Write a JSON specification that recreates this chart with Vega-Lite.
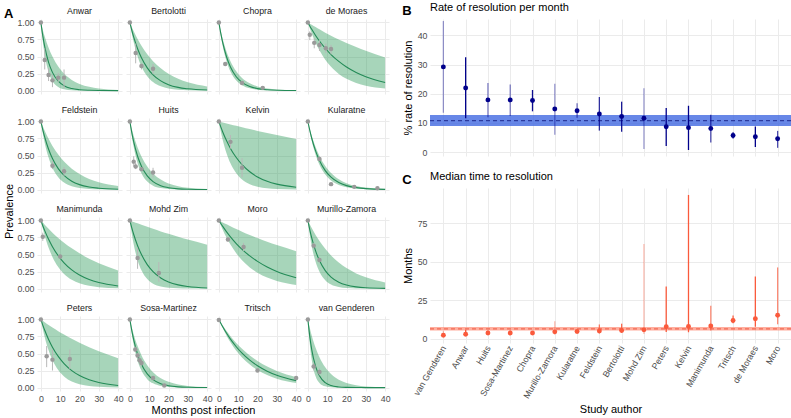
{
"$schema": "https://vega.github.io/schema/vega-lite/v6.json",
"padding": {"left": 3, "top": 2, "right": 0, "bottom": 2},
"background": "white",
"config": {
  "font": "Liberation Sans",
  "view": {"stroke": null},
  "axis": {"domain": false, "ticks": false, "labelOverlap": false, "labelColor": "#4D4D4D", "labelFontSize": 8.8, "titleFontSize": 11, "titleFontWeight": "normal", "titleColor": "#000000", "gridColor": "#EBEBEB", "labelPadding": 3},
  "header": {"labelFontSize": 8.8, "labelColor": "#1A1A1A"},
  "title": {"fontSize": 11, "fontWeight": "normal", "anchor": "start", "color": "#000000"}
},
"datasets": {
  "a": [
    {"s":"Anwar","t":0,"m":1,"l":1,"h":1},{"s":"Anwar","t":1,"m":0.803,"l":0.723,"h":0.890},{"s":"Anwar","t":2,"m":0.644,"l":0.522,"h":0.793},{"s":"Anwar","t":4,"m":0.415,"l":0.273,"h":0.629},{"s":"Anwar","t":6,"m":0.267,"l":0.142,"h":0.499},{"s":"Anwar","t":9,"m":0.138,"l":0.054,"h":0.352},{"s":"Anwar","t":12,"m":0.0714,"l":0.020,"h":0.249},{"s":"Anwar","t":16,"m":0.0296,"l":0.0055,"h":0.156},{"s":"Anwar","t":20,"m":0.0123,"l":0.0015,"h":0.098},{"s":"Anwar","t":25,"m":0.0041,"l":0.0003,"h":0.055},{"s":"Anwar","t":30,"m":0.0014,"l":0.0001,"h":0.031},{"s":"Anwar","t":40,"m":0.0002,"l":0,"h":0.0097},
    {"s":"Bertolotti","t":0,"m":1,"l":1,"h":1},{"s":"Bertolotti","t":1,"m":0.885,"l":0.841,"h":0.932},{"s":"Bertolotti","t":2,"m":0.783,"l":0.708,"h":0.869},{"s":"Bertolotti","t":4,"m":0.614,"l":0.501,"h":0.756},{"s":"Bertolotti","t":6,"m":0.481,"l":0.354,"h":0.657},{"s":"Bertolotti","t":9,"m":0.334,"l":0.211,"h":0.533},{"s":"Bertolotti","t":12,"m":0.231,"l":0.125,"h":0.432},{"s":"Bertolotti","t":16,"m":0.142,"l":0.063,"h":0.326},{"s":"Bertolotti","t":20,"m":0.087,"l":0.031,"h":0.247},{"s":"Bertolotti","t":25,"m":0.047,"l":0.013,"h":0.174},{"s":"Bertolotti","t":30,"m":0.026,"l":0.0056,"h":0.122},{"s":"Bertolotti","t":40,"m":0.0076,"l":0.001,"h":0.061},
    {"s":"Chopra","t":0,"m":1,"l":1,"h":1},{"s":"Chopra","t":1,"m":0.838,"l":0.808,"h":0.869},{"s":"Chopra","t":2,"m":0.702,"l":0.653,"h":0.756},{"s":"Chopra","t":4,"m":0.493,"l":0.427,"h":0.571},{"s":"Chopra","t":6,"m":0.346,"l":0.279,"h":0.432},{"s":"Chopra","t":9,"m":0.203,"l":0.147,"h":0.284},{"s":"Chopra","t":12,"m":0.120,"l":0.078,"h":0.186},{"s":"Chopra","t":16,"m":0.059,"l":0.033,"h":0.106},{"s":"Chopra","t":20,"m":0.029,"l":0.014,"h":0.061},{"s":"Chopra","t":25,"m":0.012,"l":0.0049,"h":0.030},{"s":"Chopra","t":30,"m":0.0049,"l":0.0017,"h":0.015},{"s":"Chopra","t":40,"m":0.0008,"l":0.0002,"h":0.0037},
    {"s":"de Moraes","t":0,"m":1,"l":1,"h":1},{"s":"de Moraes","t":1,"m":0.948,"l":0.916,"h":0.982},{"s":"de Moraes","t":2,"m":0.899,"l":0.839,"h":0.965},{"s":"de Moraes","t":4,"m":0.809,"l":0.703,"h":0.931},{"s":"de Moraes","t":6,"m":0.728,"l":0.590,"h":0.898},{"s":"de Moraes","t":9,"m":0.621,"l":0.453,"h":0.850},{"s":"de Moraes","t":12,"m":0.529,"l":0.348,"h":0.806},{"s":"de Moraes","t":16,"m":0.428,"l":0.245,"h":0.750},{"s":"de Moraes","t":20,"m":0.346,"l":0.172,"h":0.698},{"s":"de Moraes","t":25,"m":0.266,"l":0.111,"h":0.638},{"s":"de Moraes","t":30,"m":0.204,"l":0.071,"h":0.583},{"s":"de Moraes","t":40,"m":0.120,"l":0.030,"h":0.487},
    {"s":"Feldstein","t":0,"m":1,"l":1,"h":1},{"s":"Feldstein","t":1,"m":0.877,"l":0.828,"h":0.929},{"s":"Feldstein","t":2,"m":0.770,"l":0.685,"h":0.862},{"s":"Feldstein","t":4,"m":0.592,"l":0.470,"h":0.744},{"s":"Feldstein","t":6,"m":0.456,"l":0.322,"h":0.641},{"s":"Feldstein","t":9,"m":0.308,"l":0.182,"h":0.514},{"s":"Feldstein","t":12,"m":0.208,"l":0.104,"h":0.411},{"s":"Feldstein","t":16,"m":0.123,"l":0.049,"h":0.306},{"s":"Feldstein","t":20,"m":0.073,"l":0.023,"h":0.228},{"s":"Feldstein","t":25,"m":0.038,"l":0.0089,"h":0.157},{"s":"Feldstein","t":30,"m":0.020,"l":0.0034,"h":0.109},{"s":"Feldstein","t":40,"m":0.0053,"l":0.0005,"h":0.052},
    {"s":"Huits","t":0,"m":1,"l":1,"h":1},{"s":"Huits","t":1,"m":0.836,"l":0.789,"h":0.887},{"s":"Huits","t":2,"m":0.699,"l":0.623,"h":0.787},{"s":"Huits","t":4,"m":0.489,"l":0.388,"h":0.619},{"s":"Huits","t":6,"m":0.342,"l":0.241,"h":0.487},{"s":"Huits","t":9,"m":0.200,"l":0.118,"h":0.340},{"s":"Huits","t":12,"m":0.117,"l":0.058,"h":0.237},{"s":"Huits","t":16,"m":0.057,"l":0.023,"h":0.147},{"s":"Huits","t":20,"m":0.028,"l":0.0087,"h":0.091},{"s":"Huits","t":25,"m":0.011,"l":0.0027,"h":0.050},{"s":"Huits","t":30,"m":0.0047,"l":0.0008,"h":0.027},{"s":"Huits","t":40,"m":0.0008,"l":0.0001,"h":0.0082},
    {"s":"Kelvin","t":0,"m":1,"l":1,"h":1},{"s":"Kelvin","t":1,"m":0.919,"l":0.853,"h":0.993},{"s":"Kelvin","t":2,"m":0.845,"l":0.728,"h":0.985},{"s":"Kelvin","t":4,"m":0.715,"l":0.529,"h":0.970},{"s":"Kelvin","t":6,"m":0.604,"l":0.385,"h":0.956},{"s":"Kelvin","t":9,"m":0.470,"l":0.239,"h":0.935},{"s":"Kelvin","t":12,"m":0.365,"l":0.148,"h":0.914},{"s":"Kelvin","t":16,"m":0.261,"l":0.079,"h":0.887},{"s":"Kelvin","t":20,"m":0.186,"l":0.042,"h":0.861},{"s":"Kelvin","t":25,"m":0.122,"l":0.019,"h":0.829},{"s":"Kelvin","t":30,"m":0.080,"l":0.0085,"h":0.799},{"s":"Kelvin","t":40,"m":0.035,"l":0.0017,"h":0.741},
    {"s":"Kularatne","t":0,"m":1,"l":1,"h":1},{"s":"Kularatne","t":1,"m":0.868,"l":0.845,"h":0.889},{"s":"Kularatne","t":2,"m":0.753,"l":0.715,"h":0.790},{"s":"Kularatne","t":4,"m":0.567,"l":0.511,"h":0.624},{"s":"Kularatne","t":6,"m":0.427,"l":0.365,"h":0.493},{"s":"Kularatne","t":9,"m":0.279,"l":0.220,"h":0.346},{"s":"Kularatne","t":12,"m":0.182,"l":0.133,"h":0.243},{"s":"Kularatne","t":16,"m":0.103,"l":0.068,"h":0.151},{"s":"Kularatne","t":20,"m":0.058,"l":0.035,"h":0.094},{"s":"Kularatne","t":25,"m":0.029,"l":0.015,"h":0.052},{"s":"Kularatne","t":30,"m":0.014,"l":0.0065,"h":0.029},{"s":"Kularatne","t":40,"m":0.0034,"l":0.0012,"h":0.0089},
    {"s":"Manimunda","t":0,"m":1,"l":1,"h":1},{"s":"Manimunda","t":1,"m":0.922,"l":0.880,"h":0.968},{"s":"Manimunda","t":2,"m":0.850,"l":0.774,"h":0.936},{"s":"Manimunda","t":4,"m":0.723,"l":0.599,"h":0.876},{"s":"Manimunda","t":6,"m":0.615,"l":0.464,"h":0.820},{"s":"Manimunda","t":9,"m":0.482,"l":0.316,"h":0.743},{"s":"Manimunda","t":12,"m":0.378,"l":0.215,"h":0.673},{"s":"Manimunda","t":16,"m":0.274,"l":0.129,"h":0.590},{"s":"Manimunda","t":20,"m":0.198,"l":0.077,"h":0.517},{"s":"Manimunda","t":25,"m":0.132,"l":0.041,"h":0.438},{"s":"Manimunda","t":30,"m":0.088,"l":0.021,"h":0.372},{"s":"Manimunda","t":40,"m":0.039,"l":0.006,"h":0.267},
    {"s":"Mohd Zim","t":0,"m":1,"l":1,"h":1},{"s":"Mohd Zim","t":1,"m":0.890,"l":0.803,"h":0.989},{"s":"Mohd Zim","t":2,"m":0.793,"l":0.645,"h":0.978},{"s":"Mohd Zim","t":4,"m":0.629,"l":0.416,"h":0.957},{"s":"Mohd Zim","t":6,"m":0.499,"l":0.269,"h":0.936},{"s":"Mohd Zim","t":9,"m":0.352,"l":0.139,"h":0.906},{"s":"Mohd Zim","t":12,"m":0.249,"l":0.072,"h":0.876},{"s":"Mohd Zim","t":16,"m":0.156,"l":0.030,"h":0.839},{"s":"Mohd Zim","t":20,"m":0.098,"l":0.0125,"h":0.803},{"s":"Mohd Zim","t":25,"m":0.055,"l":0.0042,"h":0.760},{"s":"Mohd Zim","t":30,"m":0.031,"l":0.0014,"h":0.719},{"s":"Mohd Zim","t":40,"m":0.0097,"l":0.0002,"h":0.644},
    {"s":"Moro","t":0,"m":1,"l":1,"h":1},{"s":"Moro","t":1,"m":0.955,"l":0.930,"h":0.985},{"s":"Moro","t":2,"m":0.912,"l":0.864,"h":0.970},{"s":"Moro","t":4,"m":0.832,"l":0.747,"h":0.942},{"s":"Moro","t":6,"m":0.759,"l":0.645,"h":0.914},{"s":"Moro","t":9,"m":0.661,"l":0.518,"h":0.874},{"s":"Moro","t":12,"m":0.576,"l":0.416,"h":0.835},{"s":"Moro","t":16,"m":0.479,"l":0.311,"h":0.787},{"s":"Moro","t":20,"m":0.399,"l":0.232,"h":0.741},{"s":"Moro","t":25,"m":0.317,"l":0.161,"h":0.687},{"s":"Moro","t":30,"m":0.252,"l":0.112,"h":0.638},{"s":"Moro","t":40,"m":0.159,"l":0.054,"h":0.549},
    {"s":"Murillo-Zamora","t":0,"m":1,"l":1,"h":1},{"s":"Murillo-Zamora","t":1,"m":0.862,"l":0.791,"h":0.942},{"s":"Murillo-Zamora","t":2,"m":0.744,"l":0.626,"h":0.887},{"s":"Murillo-Zamora","t":4,"m":0.553,"l":0.392,"h":0.787},{"s":"Murillo-Zamora","t":6,"m":0.411,"l":0.246,"h":0.698},{"s":"Murillo-Zamora","t":9,"m":0.264,"l":0.122,"h":0.583},{"s":"Murillo-Zamora","t":12,"m":0.169,"l":0.060,"h":0.487},{"s":"Murillo-Zamora","t":16,"m":0.094,"l":0.024,"h":0.383},{"s":"Murillo-Zamora","t":20,"m":0.052,"l":0.0093,"h":0.301},{"s":"Murillo-Zamora","t":25,"m":0.025,"l":0.0029,"h":0.223},{"s":"Murillo-Zamora","t":30,"m":0.012,"l":0.0009,"h":0.165},{"s":"Murillo-Zamora","t":40,"m":0.0027,"l":0.0001,"h":0.091},
    {"s":"Peters","t":0,"m":1,"l":1,"h":1},{"s":"Peters","t":1,"m":0.917,"l":0.860,"h":0.979},{"s":"Peters","t":2,"m":0.840,"l":0.739,"h":0.959},{"s":"Peters","t":4,"m":0.706,"l":0.547,"h":0.919},{"s":"Peters","t":6,"m":0.593,"l":0.404,"h":0.882},{"s":"Peters","t":9,"m":0.457,"l":0.257,"h":0.828},{"s":"Peters","t":12,"m":0.352,"l":0.163,"h":0.777},{"s":"Peters","t":16,"m":0.249,"l":0.089,"h":0.715},{"s":"Peters","t":20,"m":0.176,"l":0.049,"h":0.657},{"s":"Peters","t":25,"m":0.114,"l":0.023,"h":0.592},{"s":"Peters","t":30,"m":0.074,"l":0.011,"h":0.533},{"s":"Peters","t":40,"m":0.031,"l":0.0024,"h":0.432},
    {"s":"Sosa-Martinez","t":0,"m":1,"l":1,"h":1},{"s":"Sosa-Martinez","t":1,"m":0.836,"l":0.793,"h":0.883},{"s":"Sosa-Martinez","t":2,"m":0.699,"l":0.629,"h":0.780},{"s":"Sosa-Martinez","t":4,"m":0.489,"l":0.395,"h":0.609},{"s":"Sosa-Martinez","t":6,"m":0.342,"l":0.249,"h":0.475},{"s":"Sosa-Martinez","t":9,"m":0.200,"l":0.124,"h":0.328},{"s":"Sosa-Martinez","t":12,"m":0.117,"l":0.062,"h":0.226},{"s":"Sosa-Martinez","t":16,"m":0.057,"l":0.024,"h":0.138},{"s":"Sosa-Martinez","t":20,"m":0.028,"l":0.0097,"h":0.084},{"s":"Sosa-Martinez","t":25,"m":0.011,"l":0.003,"h":0.045},{"s":"Sosa-Martinez","t":30,"m":0.0047,"l":0.0009,"h":0.024},{"s":"Sosa-Martinez","t":40,"m":0.0008,"l":0.0001,"h":0.007},
    {"s":"Tritsch","t":0,"m":1,"l":1,"h":1},{"s":"Tritsch","t":1,"m":0.945,"l":0.934,"h":0.954},{"s":"Tritsch","t":2,"m":0.892,"l":0.873,"h":0.910},{"s":"Tritsch","t":4,"m":0.796,"l":0.762,"h":0.829},{"s":"Tritsch","t":6,"m":0.710,"l":0.665,"h":0.754},{"s":"Tritsch","t":9,"m":0.599,"l":0.542,"h":0.655},{"s":"Tritsch","t":12,"m":0.505,"l":0.442,"h":0.569},{"s":"Tritsch","t":16,"m":0.402,"l":0.337,"h":0.471},{"s":"Tritsch","t":20,"m":0.320,"l":0.257,"h":0.391},{"s":"Tritsch","t":25,"m":0.241,"l":0.183,"h":0.309},{"s":"Tritsch","t":30,"m":0.181,"l":0.130,"h":0.244},{"s":"Tritsch","t":40,"m":0.102,"l":0.066,"h":0.153},
    {"s":"van Genderen","t":0,"m":1,"l":1,"h":1},{"s":"van Genderen","t":1,"m":0.747,"l":0.638,"h":0.874},{"s":"van Genderen","t":2,"m":0.558,"l":0.407,"h":0.763},{"s":"van Genderen","t":4,"m":0.311,"l":0.166,"h":0.583},{"s":"van Genderen","t":6,"m":0.173,"l":0.068,"h":0.445},{"s":"van Genderen","t":9,"m":0.072,"l":0.018,"h":0.297},{"s":"van Genderen","t":12,"m":0.030,"l":0.0046,"h":0.198},{"s":"van Genderen","t":16,"m":0.0094,"l":0.0008,"h":0.115},{"s":"van Genderen","t":20,"m":0.0029,"l":0.0001,"h":0.067},{"s":"van Genderen","t":25,"m":0.0007,"l":0,"h":0.034},{"s":"van Genderen","t":30,"m":0.0002,"l":0,"h":0.017},{"s":"van Genderen","t":40,"m":0,"l":0,"h":0.0045},
    {"s":"Anwar","t":0,"p":1},{"s":"Anwar","t":2,"p":0.45,"pl":0.31,"ph":0.62},{"s":"Anwar","t":4,"p":0.23,"pl":0.14,"ph":0.33},{"s":"Anwar","t":6,"p":0.15,"pl":0.05,"ph":0.23},{"s":"Anwar","t":9,"p":0.19,"pl":0.12,"ph":0.26},{"s":"Anwar","t":12,"p":0.19,"pl":0.03,"ph":0.31},
    {"s":"Bertolotti","t":0,"p":1},{"s":"Bertolotti","t":3,"p":0.55,"pl":0.40,"ph":0.69},{"s":"Bertolotti","t":6,"p":0.36,"pl":0.31,"ph":0.40},{"s":"Bertolotti","t":12,"p":0.32,"pl":0.24,"ph":0.39},
    {"s":"Chopra","t":0,"p":1},{"s":"Chopra","t":3.3,"p":0.39,"pl":0.36,"ph":0.42},{"s":"Chopra","t":12,"p":0.11,"pl":0.09,"ph":0.13},{"s":"Chopra","t":22.7,"p":0.04,"pl":0.03,"ph":0.05},
    {"s":"de Moraes","t":0,"p":1},{"s":"de Moraes","t":1,"p":0.82,"pl":0.74,"ph":0.87},{"s":"de Moraes","t":3.3,"p":0.70,"pl":0.62,"ph":0.77},{"s":"de Moraes","t":6,"p":0.67,"pl":0.58,"ph":0.74},{"s":"de Moraes","t":9.3,"p":0.62,"pl":0.55,"ph":0.69},{"s":"de Moraes","t":12,"p":0.61,"pl":0.53,"ph":0.67},
    {"s":"Feldstein","t":0,"p":1},{"s":"Feldstein","t":6,"p":0.35,"pl":0.30,"ph":0.42},{"s":"Feldstein","t":12,"p":0.27,"pl":0.20,"ph":0.33},
    {"s":"Huits","t":0,"p":1},{"s":"Huits","t":2,"p":0.41,"pl":0.34,"ph":0.49},{"s":"Huits","t":3,"p":0.34,"pl":0.30,"ph":0.39},{"s":"Huits","t":6,"p":0.30,"pl":0.27,"ph":0.33},{"s":"Huits","t":12,"p":0.25,"pl":0.18,"ph":0.32},
    {"s":"Kelvin","t":0,"p":1},{"s":"Kelvin","t":6,"p":0.70,"pl":0.60,"ph":0.80},{"s":"Kelvin","t":12,"p":0.32,"pl":0.18,"ph":0.46},
    {"s":"Kularatne","t":0,"p":1},{"s":"Kularatne","t":6,"p":0.45,"pl":0.42,"ph":0.48},{"s":"Kularatne","t":12,"p":0.08,"pl":0.06,"ph":0.10},{"s":"Kularatne","t":24,"p":0.04,"pl":0.03,"ph":0.05},{"s":"Kularatne","t":36,"p":0.02,"pl":0.01,"ph":0.03},
    {"s":"Manimunda","t":0,"p":1},{"s":"Manimunda","t":1,"p":0.76,"pl":0.70,"ph":0.82},{"s":"Manimunda","t":10,"p":0.47,"pl":0.44,"ph":0.50},
    {"s":"Mohd Zim","t":0,"p":1},{"s":"Mohd Zim","t":4,"p":0.45,"pl":0.29,"ph":0.60},{"s":"Mohd Zim","t":15,"p":0.23,"pl":0.10,"ph":0.39},
    {"s":"Moro","t":0,"p":1},{"s":"Moro","t":4.7,"p":0.72,"pl":0.69,"ph":0.75},{"s":"Moro","t":12.8,"p":0.61,"pl":0.55,"ph":0.67},
    {"s":"Murillo-Zamora","t":0,"p":1},{"s":"Murillo-Zamora","t":3,"p":0.63,"pl":0.59,"ph":0.67},{"s":"Murillo-Zamora","t":6,"p":0.42,"pl":0.38,"ph":0.46},
    {"s":"Peters","t":0,"p":1},{"s":"Peters","t":3,"p":0.46,"pl":0.30,"ph":0.61},{"s":"Peters","t":6,"p":0.41,"pl":0.25,"ph":0.56},{"s":"Peters","t":15,"p":0.42,"pl":0.27,"ph":0.56},
    {"s":"Sosa-Martinez","t":0,"p":1},{"s":"Sosa-Martinez","t":2.8,"p":0.56,"pl":0.52,"ph":0.60},{"s":"Sosa-Martinez","t":4,"p":0.47,"pl":0.43,"ph":0.51},{"s":"Sosa-Martinez","t":5,"p":0.40,"pl":0.36,"ph":0.44},{"s":"Sosa-Martinez","t":6,"p":0.36,"pl":0.32,"ph":0.40},{"s":"Sosa-Martinez","t":12,"p":0.14,"pl":0.11,"ph":0.17},{"s":"Sosa-Martinez","t":17.8,"p":0.03,"pl":0.02,"ph":0.04},
    {"s":"Tritsch","t":0,"p":0.99},{"s":"Tritsch","t":20,"p":0.25,"pl":0.23,"ph":0.28},{"s":"Tritsch","t":40,"p":0.14,"pl":0.12,"ph":0.15},
    {"s":"van Genderen","t":0,"p":1},{"s":"van Genderen","t":3,"p":0.31,"pl":0.25,"ph":0.37},{"s":"van Genderen","t":6,"p":0.23,"pl":0.18,"ph":0.28}
  ],
  "bc": [
    {"s":"van Genderen","rate":29.2,"rlo":13.5,"rhi":44.9,"med":2.4,"mlo":1.54,"mhi":5.13,"wt":0.4},
    {"s":"Anwar","rate":22.0,"rlo":11.6,"rhi":32.5,"med":3.1,"mlo":2.13,"mhi":5.97,"wt":1},
    {"s":"Huits","rate":17.9,"rlo":12.0,"rhi":23.7,"med":3.9,"mlo":2.92,"mhi":5.78,"wt":0.5},
    {"s":"Sosa-Martinez","rate":17.9,"rlo":12.4,"rhi":23.2,"med":3.9,"mlo":2.99,"mhi":5.59,"wt":0.5},
    {"s":"Chopra","rate":17.7,"rlo":14.0,"rhi":21.3,"med":3.9,"mlo":3.25,"mhi":4.95,"wt":0.95},
    {"s":"Murillo-Zamora","rate":14.8,"rlo":6.0,"rhi":23.4,"med":4.6,"mlo":2.96,"mhi":11.5,"wt":0.4},
    {"s":"Kularatne","rate":14.2,"rlo":11.8,"rhi":16.8,"med":4.8,"mlo":4.13,"mhi":5.87,"wt":0.55},
    {"s":"Feldstein","rate":13.1,"rlo":7.4,"rhi":18.9,"med":5.2,"mlo":3.67,"mhi":9.4,"wt":0.8},
    {"s":"Bertolotti","rate":12.2,"rlo":7.0,"rhi":17.3,"med":5.5,"mlo":4.01,"mhi":9.9,"wt":0.9},
    {"s":"Mohd Zim","rate":11.6,"rlo":1.1,"rhi":21.9,"med":5.9,"mlo":3.16,"mhi":61.5,"wt":0.38},
    {"s":"Peters","rate":8.7,"rlo":2.1,"rhi":15.1,"med":7.9,"mlo":4.59,"mhi":34.0,"wt":1},
    {"s":"Kelvin","rate":8.4,"rlo":0.75,"rhi":15.9,"med":8.1,"mlo":4.36,"mhi":93.2,"wt":1},
    {"s":"Manimunda","rate":8.1,"rlo":3.3,"rhi":12.8,"med":8.4,"mlo":5.41,"mhi":21.5,"wt":0.7},
    {"s":"Tritsch","rate":5.7,"rlo":4.7,"rhi":6.8,"med":12.0,"mlo":10.2,"mhi":15.2,"wt":0.95},
    {"s":"de Moraes","rate":5.3,"rlo":1.8,"rhi":8.8,"med":13.1,"mlo":7.9,"mhi":40.5,"wt":1},
    {"s":"Moro","rate":4.6,"rlo":1.5,"rhi":7.3,"med":15.4,"mlo":9.5,"mhi":46.3,"wt":0.7}
  ],
  "pool": [
    {"panel":"B","est":10.8,"lo":9.0,"hi":12.7},
    {"panel":"C","est":6.5,"lo":5.45,"hi":7.7}
  ]
},
"spacing": 11,
"hconcat": [
  {
    "title": {"text": "A", "fontSize": 13, "fontWeight": "bold", "anchor": "start", "frame": "bounds", "offset": -14},
    "vconcat": [
      {
        "title": {"text": "Prevalence", "orient": "left", "anchor": "middle", "frame": "bounds", "fontSize": 11, "offset": 2},
        "vconcat": [
          {
            "data": {"name": "a"},
            "title": {"text": "Months post infection", "orient": "bottom", "anchor": "middle", "frame": "bounds", "fontSize": 11, "offset": 2},
            "facet": {"field": "s", "type": "nominal", "sort": ["Anwar","Bertolotti","Chopra","de Moraes","Feldstein","Huits","Kelvin","Kularatne","Manimunda","Mohd Zim","Moro","Murillo-Zamora","Peters","Sosa-Martinez","Tritsch","van Genderen"], "header": {"title": null, "labelPadding": 3}},
            "columns": 4,
            "spacing": {"row": 12, "column": 4},
            "spec": {
              "width": 85,
              "height": 75,
              "encoding": {
                "x": {"field": "t", "type": "quantitative", "title": null,
                      "scale": {"domain": [-2, 42], "nice": false, "zero": false},
                      "axis": {"values": [0,10,20,30,40], "labelOverlap": false}}
              },
              "layer": [
                {"transform": [{"filter": {"field": "m", "valid": true}}],
                 "mark": {"type": "area", "color": "#2E9B5A", "opacity": 0.42, "interpolate": "monotone"},
                 "encoding": {
                   "y": {"field": "l", "type": "quantitative", "title": null, "scale": {"domain": [-0.05, 1.05], "nice": false},
                         "axis": {"values": [0,0.25,0.5,0.75,1], "format": ".2f", "labelOverlap": false}},
                   "y2": {"field": "h"}}},
                {"transform": [{"filter": {"field": "m", "valid": true}}],
                 "mark": {"type": "line", "color": "#238B57", "strokeWidth": 1.1, "interpolate": "monotone"},
                 "encoding": {"y": {"field": "m", "type": "quantitative", "title": null, "axis": {"values": [0,0.25,0.5,0.75,1], "format": ".2f", "labelOverlap": false}}}},
                {"transform": [{"filter": {"field": "pl", "valid": true}}],
                 "mark": {"type": "rule", "color": "#B8B8B8", "strokeWidth": 1},
                 "encoding": {"y": {"field": "pl", "type": "quantitative", "title": null, "axis": {"values": [0,0.25,0.5,0.75,1], "format": ".2f", "labelOverlap": false}}, "y2": {"field": "ph"}}},
                {"transform": [{"filter": {"field": "p", "valid": true}}],
                 "mark": {"type": "circle", "color": "#9A9A9A", "opacity": 1, "size": 20},
                 "encoding": {"y": {"field": "p", "type": "quantitative", "title": null, "axis": {"values": [0,0.25,0.5,0.75,1], "format": ".2f", "labelOverlap": false}}}}
              ]
            }
          }
        ]
      }
    ]
  },
  {
    "spacing": 13,
    "vconcat": [
      {
        "title": {"text": "B", "fontSize": 13, "fontWeight": "bold", "anchor": "start", "frame": "bounds", "offset": -16},
        "vconcat": [
          {
            "width": 361,
            "height": 137,
            "title": {"text": "Rate of resolution per month", "fontSize": 11, "anchor": "start", "frame": "group", "offset": 6},
            "layer": [
              {"data": {"name": "pool"}, "transform": [{"filter": "datum.panel == 'B'"}],
               "mark": {"type": "rect", "color": "#4169E1", "opacity": 0.8},
               "encoding": {"y": {"field": "lo", "type": "quantitative", "title": "% rate of resolution", "axis": {"values": [0,10,20,30,40], "labelOverlap": false}}, "y2": {"field": "hi"}}},
              {"data": {"name": "pool"}, "transform": [{"filter": "datum.panel == 'B'"}],
               "mark": {"type": "rule", "color": "#2B3A9E", "strokeDash": [4, 3], "strokeWidth": 1.3},
               "encoding": {"y": {"field": "est", "type": "quantitative", "title": "% rate of resolution", "axis": {"values": [0,10,20,30,40], "labelOverlap": false}}}},
              {"data": {"name": "bc"},
               "mark": {"type": "rule", "color": "#00008B", "strokeWidth": 1.3},
               "encoding": {
                 "x": {"field": "s", "type": "nominal", "sort": ["van Genderen","Anwar","Huits","Sosa-Martinez","Chopra","Murillo-Zamora","Kularatne","Feldstein","Bertolotti","Mohd Zim","Peters","Kelvin","Manimunda","Tritsch","de Moraes","Moro"],
                       "scale": {"type": "point", "padding": 0.6}, "axis": {"labels": false, "title": null, "grid": true}},
                 "y": {"field": "rlo", "type": "quantitative", "title": "% rate of resolution",
                       "scale": {"domain": [-1.3, 45.6], "nice": false, "zero": false},
                       "axis": {"values": [0,10,20,30,40], "labelOverlap": false}},
                 "y2": {"field": "rhi"},
                 "opacity": {"field": "wt", "type": "quantitative", "scale": {"domain": [0, 1], "range": [0, 1]}, "legend": null}}},
              {"data": {"name": "bc"},
               "mark": {"type": "circle", "color": "#00008B", "opacity": 1, "size": 24},
               "encoding": {
                 "x": {"field": "s", "type": "nominal", "sort": ["van Genderen","Anwar","Huits","Sosa-Martinez","Chopra","Murillo-Zamora","Kularatne","Feldstein","Bertolotti","Mohd Zim","Peters","Kelvin","Manimunda","Tritsch","de Moraes","Moro"], "axis": {"labels": false, "title": null, "grid": true}},
                 "y": {"field": "rate", "type": "quantitative", "title": "% rate of resolution", "axis": {"values": [0,10,20,30,40], "labelOverlap": false}}}}
            ]
          }
        ]
      },
      {
        "title": {"text": "C", "fontSize": 13, "fontWeight": "bold", "anchor": "start", "frame": "bounds", "offset": -16},
        "vconcat": [
          {
            "width": 361,
            "height": 155,
            "title": {"text": "Median time to resolution", "fontSize": 11, "anchor": "start", "frame": "group", "offset": 6},
            "layer": [
              {"data": {"name": "pool"}, "transform": [{"filter": "datum.panel == 'C'"}],
               "mark": {"type": "rect", "color": "#FF8C75", "opacity": 0.7},
               "encoding": {"y": {"field": "lo", "type": "quantitative", "title": "Months", "axis": {"values": [0,25,50,75], "labelOverlap": false}}, "y2": {"field": "hi"}}},
              {"data": {"name": "pool"}, "transform": [{"filter": "datum.panel == 'C'"}],
               "mark": {"type": "rule", "color": "#F26B55", "strokeDash": [4, 3], "strokeWidth": 1.3},
               "encoding": {"y": {"field": "est", "type": "quantitative", "title": "Months", "axis": {"values": [0,25,50,75], "labelOverlap": false}}}},
              {"data": {"name": "bc"},
               "mark": {"type": "rule", "color": "#FA5A3C", "strokeWidth": 1.3},
               "encoding": {
                 "x": {"field": "s", "type": "nominal", "sort": ["van Genderen","Anwar","Huits","Sosa-Martinez","Chopra","Murillo-Zamora","Kularatne","Feldstein","Bertolotti","Mohd Zim","Peters","Kelvin","Manimunda","Tritsch","de Moraes","Moro"],
                       "scale": {"type": "point", "padding": 0.6}, "title": "Study author",
                       "axis": {"labelAngle": -60, "grid": true, "labelFontSize": 8.8}},
                 "y": {"field": "mlo", "type": "quantitative", "title": "Months",
                       "scale": {"domain": [-2.6, 97.7], "nice": false, "zero": false},
                       "axis": {"values": [0,25,50,75], "labelOverlap": false}},
                 "y2": {"field": "mhi"},
                 "opacity": {"field": "wt", "type": "quantitative", "scale": {"domain": [0, 1], "range": [0, 1]}, "legend": null}}},
              {"data": {"name": "bc"},
               "mark": {"type": "circle", "color": "#FA5A3C", "opacity": 1, "size": 24},
               "encoding": {
                 "x": {"field": "s", "type": "nominal", "sort": ["van Genderen","Anwar","Huits","Sosa-Martinez","Chopra","Murillo-Zamora","Kularatne","Feldstein","Bertolotti","Mohd Zim","Peters","Kelvin","Manimunda","Tritsch","de Moraes","Moro"], "title": "Study author", "axis": {"labelAngle": -60, "grid": true, "labelFontSize": 8.8}},
                 "y": {"field": "med", "type": "quantitative", "title": "Months", "axis": {"values": [0,25,50,75], "labelOverlap": false}}}}
            ]
          }
        ]
      }
    ]
  }
]
}
